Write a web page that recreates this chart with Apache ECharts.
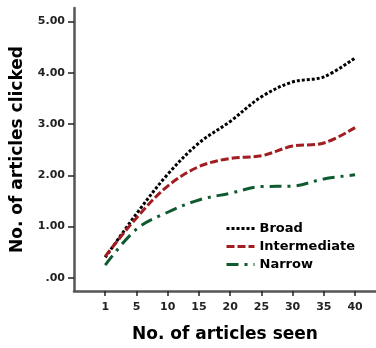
<!DOCTYPE html>
<html>
<head>
<meta charset="utf-8">
<script src="https://cdn.jsdelivr.net/npm/echarts@6/dist/echarts.min.js"></script>
<style>html,body{margin:0;padding:0;background:#fff}#c{width:376px;height:348px}</style>
</head>
<body>
<div id="c"></div>
<script>
var categories = ['1', '5', '10', '15', '20', '25', '30', '35', '40'];
var broad = [0.40, 1.25, 2.02, 2.63, 3.05, 3.53, 3.82, 3.92, 4.29];
var intermediate = [0.42, 1.17, 1.79, 2.17, 2.33, 2.38, 2.57, 2.63, 2.93];
var narrow = [0.25, 0.95, 1.28, 1.52, 1.65, 1.78, 1.79, 1.93, 2.01];
var yTickValues = [0, 1, 2, 3, 4, 5];
var yTickLabels = ['.00', '1.00', '2.00', '3.00', '4.00', '5.00'];

function pts(arr) { return arr.map(function (v, i) { return [i, v]; }); }
var xIdx = categories.map(function (c, i) { return i; });
var FONT = 'DejaVu Sans';

var chart = echarts.init(document.getElementById('c'), null, {renderer: 'canvas'});
var axisLineStyle = {color: '#555', width: 2.5};
chart.setOption({
  animation: false,
  backgroundColor: '#fff',
  grid: {left: 74, top: 8, right: 0, bottom: 52},
  legend: {
    orient: 'vertical', left: 220, top: 217, itemWidth: 28, itemHeight: 14, itemGap: 5,
    itemStyle: {opacity: 0, borderWidth: 0},
    lineStyle: {width: 3},
    textStyle: {fontFamily: FONT, fontWeight: 'bold', fontSize: 13, color: '#000'},
    data: ['Broad', 'Intermediate', 'Narrow']
  },
  xAxis: {
    type: 'value', min: -1, max: 8.67,
    name: 'No. of articles seen', nameLocation: 'middle', nameGap: 35,
    nameTextStyle: {fontFamily: FONT, fontWeight: 'bold', fontSize: 17, color: '#000'},
    axisLine: {onZero: false, lineStyle: axisLineStyle},
    axisTick: {customValues: xIdx, length: 5, lineStyle: {color: '#222', width: 1.5}},
    axisLabel: {customValues: xIdx, margin: 11, fontFamily: FONT, fontWeight: 'bold', fontSize: 11, color: '#222',
      formatter: function (v) { return categories[Math.round(v)] || ''; }},
    splitLine: {show: false}
  },
  yAxis: {
    type: 'value', min: -0.255, max: 5.262,
    name: 'No. of articles clicked', nameLocation: 'middle', nameGap: 48,
    nameTextStyle: {fontFamily: FONT, fontWeight: 'bold', fontSize: 17, color: '#000'},
    axisLine: {show: true, onZero: false, lineStyle: axisLineStyle},
    axisTick: {show: true, customValues: yTickValues, length: 6, lineStyle: {color: '#222', width: 1.5}},
    axisLabel: {customValues: yTickValues, margin: 9, fontFamily: FONT, fontWeight: 'bold', fontSize: 11, color: '#222',
      formatter: function (v) { var i = yTickValues.indexOf(Math.round(v)); return i >= 0 ? yTickLabels[i] : ''; }},
    splitLine: {show: false}
  },
  series: [
    {name: 'Broad', type: 'line', data: pts(broad), smooth: 0.35, symbol: 'none',
      itemStyle: {color: '#000'},
      lineStyle: {color: '#000', width: 3, type: [3, 2], cap: 'butt'}},
    {name: 'Intermediate', type: 'line', data: pts(intermediate), smooth: 0.35, symbol: 'none',
      itemStyle: {color: '#a11d21'},
      lineStyle: {color: '#a11d21', width: 3, type: [8, 3], cap: 'butt'}},
    {name: 'Narrow', type: 'line', data: pts(narrow), smooth: 0.35, symbol: 'none',
      itemStyle: {color: '#0f5b2f'},
      lineStyle: {color: '#0f5b2f', width: 3, type: [12, 6, 3, 6], cap: 'butt'}}
  ]
});
</script>
</body>
</html>
